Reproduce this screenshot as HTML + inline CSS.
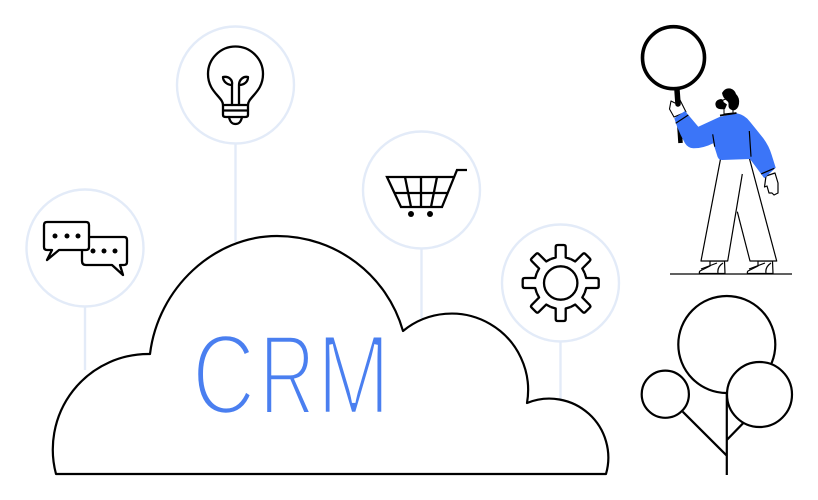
<!DOCTYPE html>
<html><head><meta charset="utf-8"><style>html,body{margin:0;padding:0;background:#fff}svg{display:block}</style></head><body>
<svg xmlns="http://www.w3.org/2000/svg" width="818" height="500" viewBox="0 0 818 500">
<rect width="818" height="500" fill="#fff"/>
<g fill="none" stroke="#e3ebf8" stroke-width="2.4">
<circle cx="235.500" cy="85" r="58.500"/><line x1="235.500" y1="144" x2="235.500" y2="242"/>
<circle cx="85" cy="248" r="58.500"/><line x1="85" y1="307" x2="85" y2="370"/>
<circle cx="421.500" cy="190" r="58.500"/><line x1="421.500" y1="249" x2="421.500" y2="318"/>
<circle cx="560.500" cy="283" r="58.500"/><line x1="560.500" y1="342" x2="560.500" y2="400"/>
</g>
<path d="M56 474 A95.500 95.500 0 0 1 150 354 C158 288 214 236 277 236 C336 236 387 275 403 331 A76.500 76.500 0 0 1 527 403 A59 59 0 0 1 606 474 Z" fill="#fff" stroke="#000" stroke-width="2.200" stroke-linejoin="round"/>
<g font-family="'Liberation Sans',sans-serif" font-size="114" fill="#4a7ff0" stroke="#fff" stroke-width="4.600" paint-order="fill stroke">
<text transform="translate(192 413.800) scale(.77 1)">C</text>
<text transform="translate(259.200 413.800) scale(.68 1)">R</text>
<text transform="translate(316.700 413.800) scale(.775 1)">M</text>
</g>
<!-- bulb -->
<g fill="none" stroke="#000" stroke-width="2.300" stroke-linejoin="round" stroke-linecap="round">
<path d="M223 105 C223 97 208 92 208 74 A27.500 27.500 0 0 1 263 74 C263 92 248 97 248 105 Z"/>
<path d="M223 105 V115 Q223 117 226 117 H245 Q248 117 248 115 V105 M223 110.500 H248"/>
<path d="M229 117 C230 122 232 124 235.500 124 C239 124 241 122 242 117"/>
<path d="M232 105 V85 C228 85 223 82 223 77 C229 76 233 80 232 85 M239 105 V85 C239 80 243 76 248 77 C248 82 244 85 239 85"/>
</g>
<!-- chat -->
<g fill="#fff" stroke="#000" stroke-width="2.300" stroke-linejoin="round">
<path d="M89 237 H124 Q127 237 127 240 V262 Q127 265 124 265 H120 L123 275 L112 265 H86 Q82 265 82 261 V250"/>
<path d="M47 222 H86 Q89 222 89 225 V247 Q89 250 86 250 H59 L47 260 L52 250 H47 Q44 250 44 247 V225 Q44 222 47 222 Z"/>
</g>
<g fill="#000"><circle cx="55" cy="236" r="2.500"/><circle cx="67" cy="236" r="2.500"/><circle cx="78" cy="236" r="2.500"/><circle cx="93" cy="251" r="2.500"/><circle cx="104" cy="251" r="2.500"/><circle cx="115" cy="251" r="2.500"/></g>
<!-- cart -->
<g fill="none" stroke="#000" stroke-width="2.300">
<path d="M467 170 H457 L442 207 H401 L387 177 H454"/>
<path d="M394 193 H447 M405 177 L411 207 M421 177 V207 M437 177 L431 207"/>
</g>
<circle cx="411" cy="214" r="3" fill="#000"/><circle cx="430" cy="214" r="3" fill="#000"/>
<!-- gear -->
<g transform="translate(560.700 283)" fill="none" stroke="#000" stroke-width="2.300" stroke-linejoin="round">
<circle r="16.700"/>
<g transform="rotate(0)"><path d="M-9.950 -24 L-5 -25.500 V-36 Q-5 -38 -3 -38 H3 Q5 -38 5 -36 V-25.500 L9.950 -24"/></g>
<g transform="rotate(45)"><path d="M-9.950 -24 L-5 -25.500 V-36 Q-5 -38 -3 -38 H3 Q5 -38 5 -36 V-25.500 L9.950 -24"/></g>
<g transform="rotate(90)"><path d="M-9.950 -24 L-5 -25.500 V-36 Q-5 -38 -3 -38 H3 Q5 -38 5 -36 V-25.500 L9.950 -24"/></g>
<g transform="rotate(135)"><path d="M-9.950 -24 L-5 -25.500 V-36 Q-5 -38 -3 -38 H3 Q5 -38 5 -36 V-25.500 L9.950 -24"/></g>
<g transform="rotate(180)"><path d="M-9.950 -24 L-5 -25.500 V-36 Q-5 -38 -3 -38 H3 Q5 -38 5 -36 V-25.500 L9.950 -24"/></g>
<g transform="rotate(225)"><path d="M-9.950 -24 L-5 -25.500 V-36 Q-5 -38 -3 -38 H3 Q5 -38 5 -36 V-25.500 L9.950 -24"/></g>
<g transform="rotate(270)"><path d="M-9.950 -24 L-5 -25.500 V-36 Q-5 -38 -3 -38 H3 Q5 -38 5 -36 V-25.500 L9.950 -24"/></g>
<g transform="rotate(315)"><path d="M-9.950 -24 L-5 -25.500 V-36 Q-5 -38 -3 -38 H3 Q5 -38 5 -36 V-25.500 L9.950 -24"/></g>
</g>
<!-- person -->
<line x1="670" y1="274" x2="792" y2="274" stroke="#000" stroke-width="1.300"/>
<g fill="#fff" stroke="#000" stroke-width="1.200" stroke-linejoin="round">
<path d="M710 261 V266 L700 271 Q699 272 699.500 273.500 H725 L724.500 261 Z"/>
<path d="M758 261 V266 L748 271 Q747 272 747.500 273.500 H773 L772.500 261 Z"/>
<path d="M701 269 L717 263 M749 269 L765 263 M718 273 Q717 267 723 263 M766 273 Q765 267 771 263" fill="none"/>
<path d="M720.700 158 L701 261 H727.700 L737.300 211.700 L750 261 H776.700 L749.300 158 Z" stroke="none"/>
<path d="M720.700 158 L701 261 H727.700 L742.300 174 M749.300 158 L776.700 261 H750 L737.300 211.700" fill="none"/>
<path d="M766 176 L764.500 187 L767 186 L769 193 L772 193 L774 195 L778 193 L778 183 L775 173 Z"/>
</g>
<line x1="677" y1="90" x2="680.500" y2="143" stroke="#000" stroke-width="4.500"/>
<circle cx="673.500" cy="57.700" r="31" fill="#fff" stroke="#000" stroke-width="3.600"/>
<path d="M671 101 L669.500 109 L674 117 L686 112 L680 100 L679 104 L675 103 Z" fill="#fff" stroke="#000" stroke-width="1.100" stroke-linejoin="round"/>
<line x1="677" y1="90" x2="678" y2="104" stroke="#000" stroke-width="5.500" stroke-linecap="round"/>
<path d="M674.300 118.300 L685 111 L698.300 126.700 L720 116.700 L736.700 113.300 Q745 115 750 121.700 L763.300 138.300 Q769 146 771.700 155 L775.700 167.700 L764.300 178.300 L750 159 L722 160 Q718 160 717 155 L713.300 143.300 Q703 148.500 693.300 148.300 Q688 148 685 143.300 Q678 131 674.300 118.300 Z" fill="#3b75f8"/>
<g stroke="#000" fill="none" stroke-width="1.200">
<path d="M675.700 123.300 L688.300 115 M761 174 L774.300 168.300 M712.700 134.300 L714.700 146.700 M749.300 131 L751 156.700"/>
<path d="M720 115.500 L736.500 113" stroke-width="1.800"/>
</g>
<path d="M723 100 L721 105 L724 109 L724 114 L733 113 L733 108 L729 98 Z" fill="#fff" stroke="#000" stroke-width="1"/>
<path d="M722 93 Q725 87.500 730.500 88.500 Q735 90 736 94 Q740 98 739 104 Q738 110 733 110.500 Q728 109 728.500 105 Q729 102 726.500 100.500 Q723 98 722 93 Z" fill="#000"/>
<path d="M715.500 103 Q716.500 99.500 721 99 Q723.500 99.500 723.500 102 L727 104.500 L725 109 Q719 110 716.500 107.500 Q715 105 715.500 103 Z" fill="#000"/>
<!-- tree -->
<g fill="none" stroke="#000" stroke-width="2.200">
<circle cx="726.800" cy="344.500" r="48.500" fill="#fff"/>
<path d="M726.800 393 V475 M682.700 411.700 L726.800 455.700 M743 423.300 L726.800 440"/>
<circle cx="759.500" cy="394.500" r="32.500" fill="#fff"/>
<circle cx="665.300" cy="394.200" r="23.600" fill="#fff"/>
</g>
</svg>
</body></html>
